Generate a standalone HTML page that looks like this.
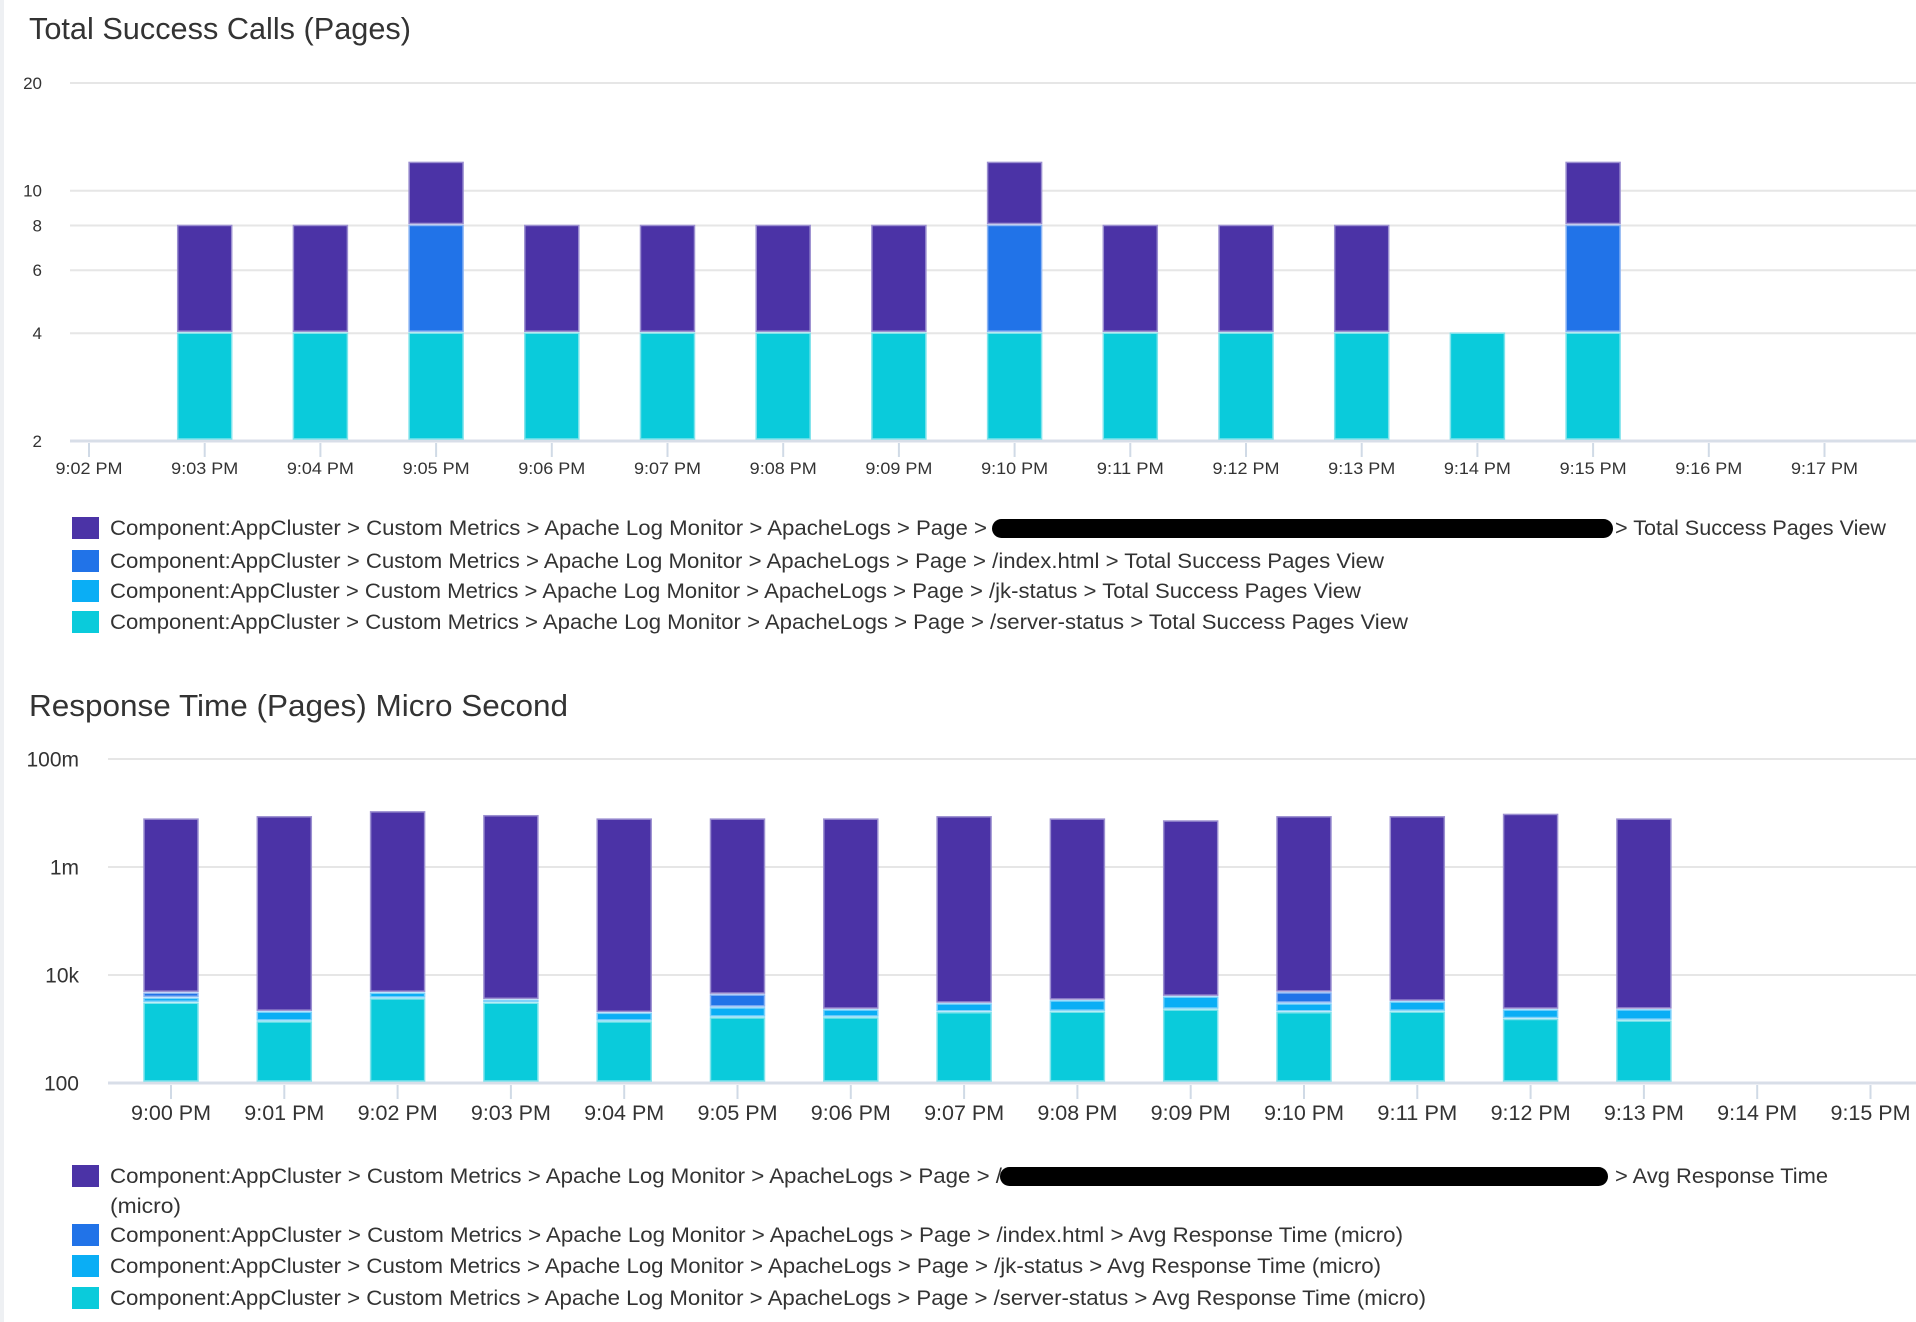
<!DOCTYPE html>
<html><head><meta charset="utf-8"><style>
html,body{margin:0;padding:0;background:#fff;}
body{width:1916px;height:1322px;overflow:hidden;position:relative;font-family:"Liberation Sans",sans-serif;}
#edge{position:absolute;left:0;top:0;width:4px;height:1322px;background:#eef0f3;}
svg{position:absolute;left:0;top:0;}
</style></head><body>
<div id="edge"></div>
<svg id="s" width="1916" height="1322" xmlns="http://www.w3.org/2000/svg">
<text x="29" y="39" font-size="31" fill="#333" textLength="382" lengthAdjust="spacingAndGlyphs">Total Success Calls (Pages)</text>
<text x="29" y="716" font-size="31" fill="#333" textLength="539" lengthAdjust="spacingAndGlyphs">Response Time (Pages) Micro Second</text>
<g id="c1"></g>
<g id="c2"></g>
<g id="lg"></g>
</svg>
<script>
const c1Cats=['9:02 PM','9:03 PM','9:04 PM','9:05 PM','9:06 PM','9:07 PM','9:08 PM','9:09 PM','9:10 PM','9:11 PM','9:12 PM','9:13 PM','9:14 PM','9:15 PM','9:16 PM','9:17 PM'];
const c1Server=[0,4,4,4,4,4,4,4,4,4,4,4,4,4,0,0];
const c1Jk=[0,0,0,0,0,0,0,0,0,0,0,0,0,0,0,0];
const c1Index=[0,0,0,4,0,0,0,0,4,0,0,0,0,4,0,0];
const c1Other=[0,4,4,4,4,4,4,4,4,4,4,4,0,4,0,0];
const c1Ticks=[2,4,6,8,10,20];

const c2Cats=['9:00 PM','9:01 PM','9:02 PM','9:03 PM','9:04 PM','9:05 PM','9:06 PM','9:07 PM','9:08 PM','9:09 PM','9:10 PM','9:11 PM','9:12 PM','9:13 PM','9:14 PM','9:15 PM'];
const c2Server=[3000,1350,3600,3000,1350,1600,1600,2000,2050,2240,2000,2050,1500,1400];
const c2Jk=[700,700,1000,400,600,850,640,900,1250,1650,900,1100,740,850];
const c2Index=[900,0,0,0,0,1800,0,0,0,0,1750,0,0,0];
const c2Other=[7700000,8500000,10500000,8900000,7700000,7700000,7700000,8500000,7700000,7100000,8500000,8500000,9400000,7700000];
const c2TickVals=[100,10000,1000000,100000000];
const c2TickLabels=['100','10k','1m','100m'];

const NS='http://www.w3.org/2000/svg';
const colors=['#0acbdb','#0aaef5','#2173e8','#4b33a6'];
const strokes=['#7fe3ec','#7fd2fa','#8db5f3','#9b8fd0'];
function mk(p,tag,at){const e=document.createElementNS(NS,tag);for(const k in at)e.setAttribute(k,at[k]);p.appendChild(e);return e;}

function chart(g,cfg){
  const y=v=>cfg.y0-(Math.log10(v)-Math.log10(cfg.vmin))*cfg.dec;
  const x=i=>cfg.x0+i*cfg.step;
  cfg.ticks.forEach((t,i)=>{
    const gl=mk(g,'line',{x1:cfg.gx,x2:1916,y1:y(t),y2:y(t),stroke:i===0?'#d8dee8':'#e6e6e6','stroke-width':i===0?3:2});
    
    
    const tl=mk(g,'text',{x:cfg.lx,y:y(t)+cfg.fs*0.35,'font-size':cfg.fs,fill:'#333','text-anchor':'end'});
    tl.textContent=cfg.tickLabels?cfg.tickLabels[i]:String(t);
    
    
  });
  cfg.cats.forEach((c,i)=>{
    const tk=mk(g,'line',{x1:x(i),x2:x(i),y1:cfg.y0+2,y2:cfg.y0+16,stroke:'#d0dae6','stroke-width':2});
    
    
    const t=mk(g,'text',{x:x(i)-cfg.xw/2,y:cfg.xly,'font-size':cfg.xfs,fill:'#333',textLength:cfg.xw,lengthAdjust:'spacingAndGlyphs'});
    t.textContent=c;
    
    
  });
  const n=cfg.series[0].length;
  for(let i=0;i<n;i++){
    let cum=0;let prevTop=cfg.y0;
    cfg.series.forEach((s,k)=>{
      const v=s[i];if(!v)return;
      cum+=v;
      const top=y(cum);
      const bot=prevTop;
      const h=Math.max(1,bot-top-2);
      const r=mk(g,'rect',{x:x(i)-27,y:top,width:54,height:h,fill:colors[k],stroke:strokes[k],'stroke-width':1.5});
      
      
      prevTop=top;
    });
  }
}
chart(document.getElementById('c1'),{vmin:2,y0:441,dec:358,x0:89,step:115.7,gx:70,lx:42,fs:17,ticks:c1Ticks,cats:c1Cats,xly:474,xfs:17,xw:67,
  series:[c1Server,c1Jk,c1Index,c1Other],names:['server-status','jk-status','index','other']});
chart(document.getElementById('c2'),{vmin:100,y0:1083,dec:54,x0:171,step:113.3,gx:108,lx:79,fs:21,ticks:c2TickVals,tickLabels:c2TickLabels,cats:c2Cats,xly:1120,xfs:21,xw:80,
  series:[c2Server,c2Jk,c2Index,c2Other],names:['server-status','jk-status','index','other']});

const lg=document.getElementById('lg');
const P='Component:AppCluster > Custom Metrics > Apache Log Monitor > ApacheLogs > Page > ';
const legendRows=[
 [528,3,[[110,877,P],[1615,271,'> Total Success Pages View']],[992,621]],
 [561,2,[[110,1274,P+'/index.html > Total Success Pages View']]],
 [591,1,[[110,1251,P+'/jk-status > Total Success Pages View']]],
 [622,0,[[110,1298,P+'/server-status > Total Success Pages View']]],
 [1176,3,[[110,892,P+'/'],[1615,213,'> Avg Response Time'],[110,71,'(micro)',30]],[1000,608]],
 [1235,2,[[110,1293,P+'/index.html > Avg Response Time (micro)']]],
 [1266,1,[[110,1271,P+'/jk-status > Avg Response Time (micro)']]],
 [1298,0,[[110,1316,P+'/server-status > Avg Response Time (micro)']]]
];
legendRows.forEach(r=>{
  const sw=mk(lg,'rect',{x:72,y:r[0]-11,width:27,height:22,fill:colors[r[1]]});
  
  
  r[2].forEach(p=>{
    const t=mk(lg,'text',{x:p[0],y:r[0]+7+(p[3]||0),'font-size':21,fill:'#333',textLength:p[1],lengthAdjust:'spacingAndGlyphs'});
    t.textContent=p[2];
    
    
  });
  if(r[3]){
    const b=mk(lg,'rect',{x:r[3][0],y:r[0]-9,width:r[3][1],height:19,rx:9.5,fill:'#000'});
    
    
  }
});
</script>
</body></html>
